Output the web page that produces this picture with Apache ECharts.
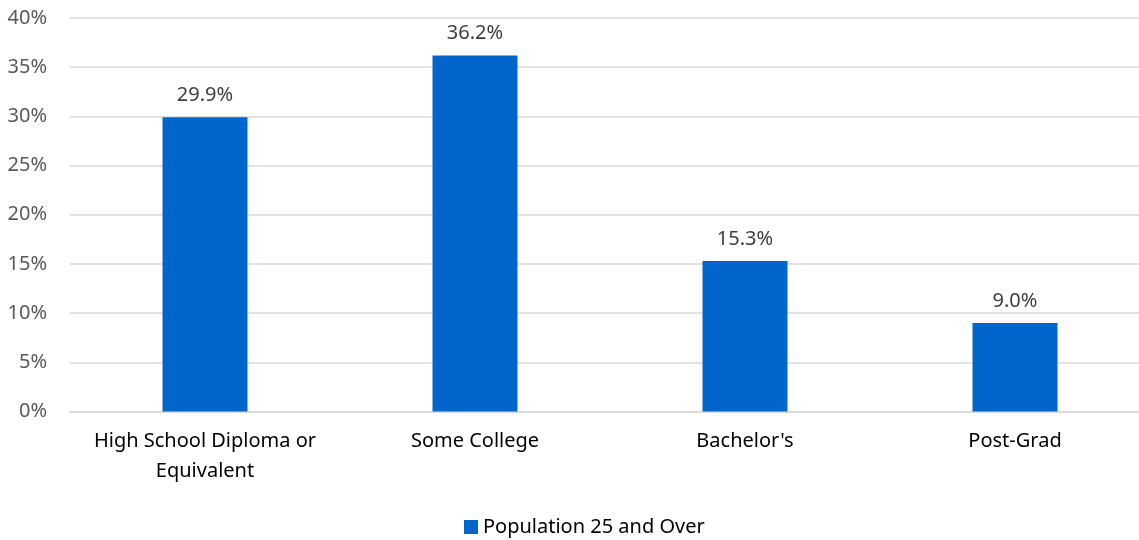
<!DOCTYPE html>
<html><head><meta charset="utf-8">
<script src="https://cdn.jsdelivr.net/npm/echarts@6/dist/echarts.min.js"></script>
<style>html,body{margin:0;padding:0;background:#fff;overflow:hidden}#c{width:1150px;height:540px}</style>
</head><body><div id="c"></div>
<script>
const categories = ["High School Diploma or\nEquivalent", "Some College", "Bachelor's", "Post-Grad"];
const seriesName = "Population 25 and Over";
const values = [29.9, 36.2, 15.3, 9.0];
const yTicks = [0, 5, 10, 15, 20, 25, 30, 35, 40];

const chart = echarts.init(document.getElementById('c'), null, {renderer: 'canvas'});
chart.setOption({
  animation: false,
  textStyle: {fontFamily: 'Noto Sans'},
  grid: {left: 70, right: 0, top: 18, bottom: 128.5, containLabel: false},
  legend: {
    data: [seriesName], left: 464, top: 517, padding: 0, itemWidth: 14, itemHeight: 14, itemGap: 5,
    icon: 'rect',
    textStyle: {fontSize: 20, color: '#000', fontFamily: 'Noto Sans'}
  },
  xAxis: {
    type: 'category', data: categories,
    axisLine: {show: true, lineStyle: {color: '#D9D9D9', width: 1.5}},
    axisTick: {show: false},
    axisLabel: {fontSize: 20, color: '#000', lineHeight: 30, margin: 15, interval: 0}
  },
  yAxis: {
    type: 'value', min: yTicks[0], max: yTicks[yTicks.length - 1], interval: 5,
    axisLine: {show: false}, axisTick: {show: false},
    splitLine: {lineStyle: {color: '#D9D9D9', width: 1.5}},
    axisLabel: {fontSize: 20, color: '#595959', margin: 23, formatter: v => v + '%'}
  },
  series: [{
    name: seriesName, type: 'bar', data: values, barWidth: 85,
    itemStyle: {color: '#0066CC'},
    label: {show: true, position: 'top', distance: 12, fontSize: 20, color: '#404040',
      formatter: p => p.value.toFixed(1) + '%'}
  }]
});
</script></body></html>
